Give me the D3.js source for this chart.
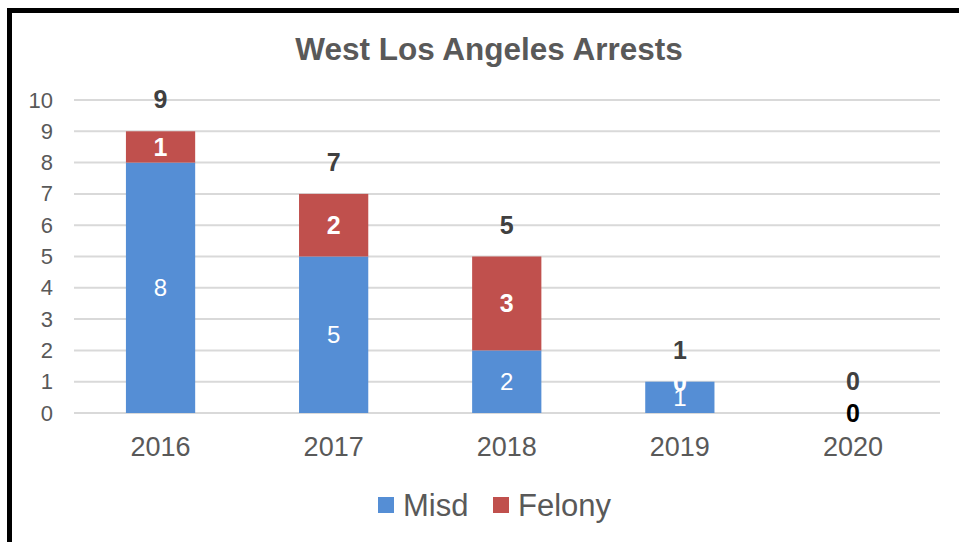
<!DOCTYPE html>
<html>
<head>
<meta charset="utf-8">
<script src="https://cdn.jsdelivr.net/npm/d3@7"></script>
<style>
  body { margin: 0; background: #fff; }
  svg { display: block; font-family: "Liberation Sans", Arial, sans-serif; }
</style>
</head>
<body>
<div id="chart"></div>
<script>
// datos
const years = ["2016", "2017", "2018", "2019", "2020"]
const misd = [8, 5, 2, 1, 0]
const felony = [1, 2, 3, 0, 0]
const yTicks = [0, 1, 2, 3, 4, 5, 6, 7, 8, 9, 10]
const seriesNames = ["Misd", "Felony"]
const seriesColors = ["#558ed5", "#c0504d"]

const width = 959
const height = 542
const margin = { top: 100, right: 19, bottom: 129, left: 74 }

const svg = d3.select("div#chart")
    .append("svg")
    .attr("width", width)
    .attr("height", height)

// marco
svg.append("rect")
    .attr("x", 9.5).attr("y", 10.5)
    .attr("width", 980).attr("height", 560)
    .attr("fill", "none")
    .attr("stroke", "#000")
    .attr("stroke-width", 5)

// titulo
svg.append("text")
    .attr("x", 489).attr("y", 60)
    .attr("text-anchor", "middle")
    .attr("font-size", 31.5)
    .attr("font-weight", "bold")
    .attr("fill", "#595959")
    .text("West Los Angeles Arrests")

// escalas
const x = d3.scaleBand()
    .domain(years)
    .range([margin.left, width - margin.right - 0.5])
    .paddingInner(0.6)
    .paddingOuter(0.3)
const y = d3.scaleLinear()
    .domain([0, 10])
    .range([height - margin.bottom, margin.top])

// rejilla
svg.append("g")
    .selectAll("line")
    .data(yTicks)
    .join("line")
    .attr("x1", margin.left)
    .attr("x2", width - margin.right)
    .attr("y1", d => y(d))
    .attr("y2", d => y(d))
    .attr("stroke", "#d9d9d9")
    .attr("stroke-width", 2)

// eje y
const yAxisGroup = svg.append("g")
    .attr("transform", `translate(${margin.left - 21},0)`)
    .call(d3.axisLeft(y).tickValues(yTicks).tickSize(0).tickPadding(0))
yAxisGroup.select(".domain").remove()
yAxisGroup.selectAll("text")
    .attr("font-size", 22)
    .attr("fill", "#595959")
    .attr("font-family", "Liberation Sans, Arial, sans-serif")

// eje x
const xAxisGroup = svg.append("g")
    .attr("transform", `translate(0,${height - margin.bottom})`)
    .call(d3.axisBottom(x).tickSize(0).tickPadding(24))
xAxisGroup.select(".domain").remove()
xAxisGroup.selectAll("text")
    .attr("font-size", 27)
    .attr("fill", "#595959")
    .attr("font-family", "Liberation Sans, Arial, sans-serif")

// barras apiladas
const table = years.map((yr, i) => ({ year: yr, Misd: misd[i], Felony: felony[i] }))
const stacked = d3.stack().keys(seriesNames)(table)

const barGroup = svg.append("g")
stacked.forEach((serie, s) => {
    barGroup.append("g")
        .selectAll("rect")
        .data(serie)
        .join("rect")
        .attr("x", d => x(d.data.year))
        .attr("y", d => y(d[1]))
        .attr("width", x.bandwidth())
        .attr("height", d => y(d[0]) - y(d[1]))
        .attr("fill", seriesColors[s])
})

// etiquetas Misd
svg.append("g")
    .selectAll("text")
    .data(stacked[0].filter(d => d.data.Misd > 0))
    .join("text")
    .attr("x", d => x(d.data.year) + x.bandwidth() / 2)
    .attr("y", d => (y(d[0]) + y(d[1])) / 2)
    .attr("dy", "0.36em")
    .attr("text-anchor", "middle")
    .attr("font-size", 24)
    .attr("fill", "#fff")
    .text(d => d.data.Misd)

// etiquetas Felony
svg.append("g")
    .selectAll("text")
    .data(stacked[1])
    .join("text")
    .attr("x", d => x(d.data.year) + x.bandwidth() / 2)
    .attr("y", d => (y(d[0]) + y(d[1])) / 2)
    .attr("dy", "0.36em")
    .attr("text-anchor", "middle")
    .attr("font-size", 25)
    .attr("font-weight", "bold")
    .attr("fill", d => d[1] > 0 ? "#fff" : "#000")
    .text(d => d.data.Felony)

// totales
svg.append("g")
    .selectAll("text")
    .data(table)
    .join("text")
    .attr("x", d => x(d.year) + x.bandwidth() / 2)
    .attr("y", d => y(d.Misd + d.Felony) - 32)
    .attr("dy", "0.36em")
    .attr("text-anchor", "middle")
    .attr("font-size", 25)
    .attr("font-weight", "bold")
    .attr("fill", "#404040")
    .text(d => d.Misd + d.Felony)

// leyenda
const legendX = [378, 493]
const legend = svg.append("g")
    .selectAll("g")
    .data(seriesNames)
    .join("g")
    .attr("transform", (d, i) => `translate(${legendX[i]},497)`)
legend.append("rect")
    .attr("width", 16).attr("height", 16)
    .attr("fill", (d, i) => seriesColors[i])
legend.append("text")
    .attr("x", 25).attr("y", 19)
    .attr("font-size", 31)
    .attr("fill", "#595959")
    .text(d => d)
</script>
</body>
</html>
